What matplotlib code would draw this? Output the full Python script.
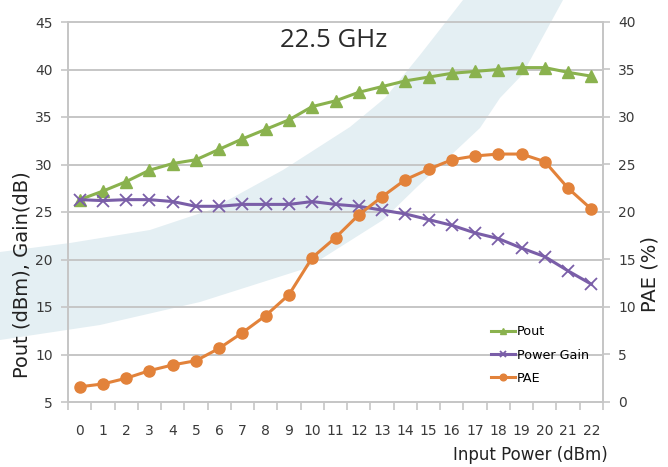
import matplotlib
matplotlib.use("Agg")
import matplotlib.pyplot as plt
from matplotlib.patches import Polygon
from matplotlib import font_manager

# data
input_power = list(range(23))
pout = [26.3, 27.2, 28.2, 29.4, 30.1, 30.5, 31.6, 32.7, 33.7, 34.7, 36.1, 36.7,
        37.6, 38.2, 38.8, 39.2, 39.6, 39.8, 40.0, 40.2, 40.2, 39.7, 39.3]
power_gain = [26.3, 26.2, 26.3, 26.3, 26.1, 25.6, 25.6, 25.8, 25.8, 25.8, 26.1, 25.8,
              25.6, 25.2, 24.8, 24.2, 23.6, 22.8, 22.2, 21.2, 20.3, 18.8, 17.4]
pae = [1.6, 1.9, 2.5, 3.3, 3.9, 4.35, 5.65, 7.3, 9.1, 11.3, 15.2, 17.3,
       19.7, 21.6, 23.4, 24.5, 25.5, 25.9, 26.1, 26.1, 25.3, 22.5, 20.3]

left_ticks = [5, 10, 15, 20, 25, 30, 35, 40, 45]
right_ticks = [0, 5, 10, 15, 20, 25, 30, 35, 40]

# decorative swoosh in the background (pixel coords of a 668x467 figure)
band_upper = [(463, 0), (420, 55), (385, 98), (350, 127), (283, 170), (210, 210),
              (150, 230), (70, 243), (0, 252)]
band_lower = [(0, 340), (100, 325), (200, 302), (307, 268), (383, 220), (417, 187),
              (480, 128), (500, 98), (522, 75), (563, 0)]

names = {f.name for f in font_manager.fontManager.ttflist}
narrow = "Liberation Sans Narrow" if "Liberation Sans Narrow" in names else "DejaVu Sans"

green = "#8ab24e"
purple = "#7a5ea8"
orange = "#e2823a"
grid_c = "#c6c6c6"
text_c = "#3a3a3a"

W, H = 668, 467
fig = plt.figure(figsize=(W / 100, H / 100), dpi=100)

pts = [(x / W, 1 - y / H) for x, y in band_upper + band_lower]
fig.add_artist(Polygon(pts, closed=True, transform=fig.transFigure,
                       facecolor="#e4eff3", edgecolor="none", zorder=-5))

ax = fig.add_axes([68 / W, 1 - 402 / H, 535 / W, 380 / H])
ax.patch.set_alpha(0)
ax2 = ax.twinx()

ax.set_xlim(-0.5, 22.5)
ax.set_ylim(5, 45)
ax2.set_ylim(0, 40)

for v in left_ticks[1:]:
    ax.axhline(v, color=grid_c, lw=1.4, zorder=1, clip_on=False)

ax.plot(input_power, pout, color=green, lw=2.2, marker="^", ms=8, zorder=3, label="Pout")
ax.plot(input_power, power_gain, color=purple, lw=2.2, marker="x", ms=8, mew=1.3,
        zorder=3, label="Power Gain")
l3, = ax2.plot(input_power, pae, color=orange, lw=2.2, marker="o", ms=8, zorder=3, label="PAE")

ax.set_yticks(left_ticks)
ax2.set_yticks(right_ticks)
ax.set_xticks([i - 0.5 for i in range(24)], minor=False)
ax.set_xticklabels([])
ax.set_xticks(input_power, minor=True)
ax.set_xticklabels([str(i) for i in input_power], minor=True)
ax.tick_params(axis="x", which="minor", length=0, pad=16, labelsize=10, labelcolor=text_c)
ax.tick_params(axis="x", which="major", length=6, color=grid_c, width=1.2)
ax.tick_params(axis="y", length=5, color=grid_c, width=1.2, labelsize=10, labelcolor=text_c, pad=6)
ax2.tick_params(axis="y", length=5, color=grid_c, width=1.2, labelsize=10, labelcolor=text_c, pad=6)
for lab in ax.get_xticklabels(minor=True) + ax.get_yticklabels() + ax2.get_yticklabels():
    lab.set_family(narrow)

for a in (ax, ax2):
    a.spines["top"].set_visible(False)
    for s in ("left", "right", "bottom"):
        a.spines[s].set_color(grid_c)
        a.spines[s].set_linewidth(1.4)

ax.text(0.497, 43.1, "22.5 GHz", transform=ax.get_yaxis_transform(), ha="center",
        va="center", fontsize=18.5, color="#2b2b2b", family="Open Sans")

fig.text(22 / W, 1 - 275 / H, "Pout (dBm), Gain(dB)", rotation=90, ha="center",
         va="center", fontsize=14, color="#222222")
fig.text(650 / W, 1 - 274 / H, "PAE (%)", rotation=90, ha="center", va="center",
         fontsize=14, color="#222222")
fig.text(608 / W, 1 - 455 / H, "Input Power (dBm)", ha="right", va="center",
         fontsize=12, color="#222222")

h1, lb1 = ax.get_legend_handles_labels()
leg = ax.legend(h1 + [l3], lb1 + ["PAE"], loc="lower right", bbox_to_anchor=(0.995, 0.015),
                frameon=False, handlelength=1.9, handletextpad=0.1, labelspacing=0.8,
                markerscale=0.6, prop={"family": narrow, "size": 9.2})
leg.set_zorder(5)

fig.savefig("out.png", dpi=100)
